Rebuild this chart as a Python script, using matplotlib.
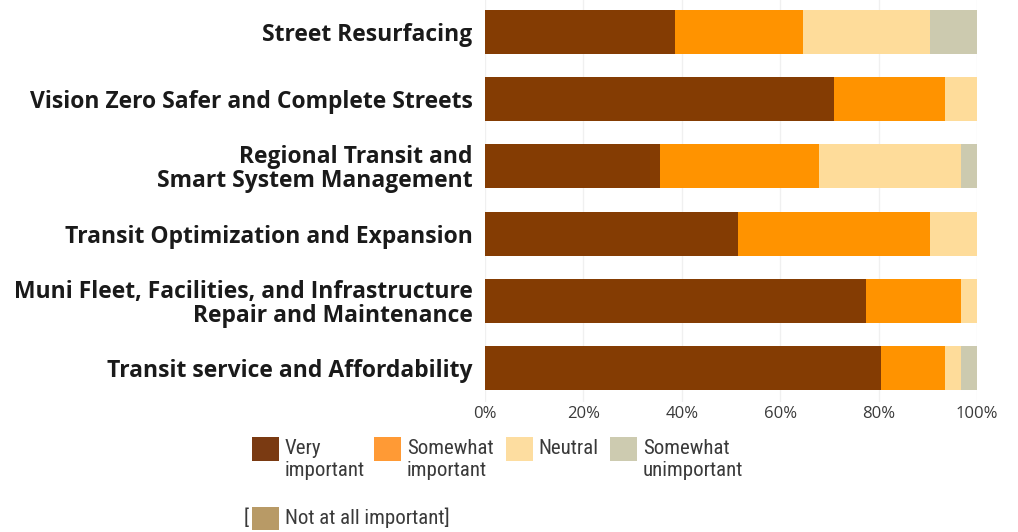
import matplotlib
matplotlib.use("Agg")
import matplotlib.pyplot as plt
from matplotlib.patches import Rectangle
from matplotlib import font_manager
import numpy as np

categories = [
    "Street Resurfacing",
    "Vision Zero Safer and Complete Streets",
    "Regional Transit and\nSmart System Management",
    "Transit Optimization and Expansion",
    "Muni Fleet, Facilities, and Infrastructure\nRepair and Maintenance",
    "Transit service and Affordability",
]
very_important = [38.6, 71.0, 35.5, 51.5, 77.4, 80.5]
somewhat_important = [26.0, 22.4, 32.3, 38.9, 19.4, 12.9]
neutral = [25.8, 6.6, 29.0, 9.6, 3.2, 3.4]
somewhat_unimportant = [9.6, 0.0, 3.2, 0.0, 0.0, 3.2]
not_at_all_important = [0.0, 0.0, 0.0, 0.0, 0.0, 0.0]

series_names = [["Very", "important"], ["Somewhat", "important"], ["Neutral"], ["Somewhat", "unimportant"]]
bar_colors = ["#843C03", "#FF9300", "#FEDC9A", "#CCCAAF", "#B89A66"]
legend_colors = ["#7A3A12", "#FF9A35", "#FDDDA0", "#CDCBB0", "#B89A66"]
xticks = [0, 20, 40, 60, 80, 100]
xtick_labels = ["0%", "20%", "40%", "60%", "80%", "100%"]

installed = {f.name for f in font_manager.fontManager.ttflist}
narrow = None
for cand in ["Roboto Condensed", "Liberation Sans Narrow", "Open Sans Condensed", "DejaVu Sans Condensed"]:
    if cand in installed:
        narrow = cand
        break

W, H = 1018, 532
fig = plt.figure(figsize=(W / 100, H / 100), dpi=100)
ax = fig.add_axes([485 / W, (H - 401.6) / H, 492 / W, 403.2 / H])

series = [very_important, somewhat_important, neutral, somewhat_unimportant, not_at_all_important]
y = np.arange(len(categories))
left = np.zeros(len(categories))
for vals, col in zip(series, bar_colors):
    vals = np.array(vals)
    ax.barh(y, vals, left=left, height=0.655, color=col, edgecolor="none", zorder=3)
    left += vals

ax.set_xlim(0, 100)
ax.set_ylim(len(categories) - 0.5, -0.5)
ax.set_yticks(y)
ax.set_yticklabels(categories, fontsize=16.5, fontweight="bold", family="Open Sans",
                   color="#1a1a1a", linespacing=1.0)
ax.set_xticks(xticks)
ax.set_xticklabels(xtick_labels, fontsize=12, family="Open Sans", color="#3a3a3a")
ax.tick_params(axis="both", length=0)
ax.tick_params(axis="y", pad=9)
ax.tick_params(axis="x", pad=3)
for s in ax.spines.values():
    s.set_visible(False)
ax.grid(axis="x", color="#F0F0F0", linewidth=1, zorder=0)
ax.grid(axis="y", visible=False)

# Legend (drawn manually in pixel coordinates)
def fx(px):
    return px / W

def fy(py):
    return 1 - py / H

if narrow:
    leg_font = dict(family=[narrow, "DejaVu Sans"], fontsize=15, color="#3a3a3a")
else:
    leg_font = dict(family="DejaVu Sans", fontsize=12.3, color="#3a3a3a")
handles_x = [252, 374, 506, 610]
text_x = [285, 407, 538, 643]
for hx, tx, lines, col in zip(handles_x, text_x, series_names, legend_colors):
    fig.patches.append(Rectangle((fx(hx), fy(461)), 27 / W, 24 / H, transform=fig.transFigure,
                                 facecolor=col, edgecolor="none"))
    for i, line in enumerate(lines):
        fig.text(fx(tx), fy(449 + 22 * i), line, va="center", ha="left", **leg_font)

fig.text(fx(244), fy(518), "[", va="center", ha="left", **leg_font)
fig.patches.append(Rectangle((fx(252), fy(530)), 27 / W, 23 / H, transform=fig.transFigure,
                             facecolor=legend_colors[4], edgecolor="none"))
fig.text(fx(285), fy(518), "Not at all important]", va="center", ha="left", **leg_font)

fig.savefig("out.png", dpi=100, facecolor="white")
